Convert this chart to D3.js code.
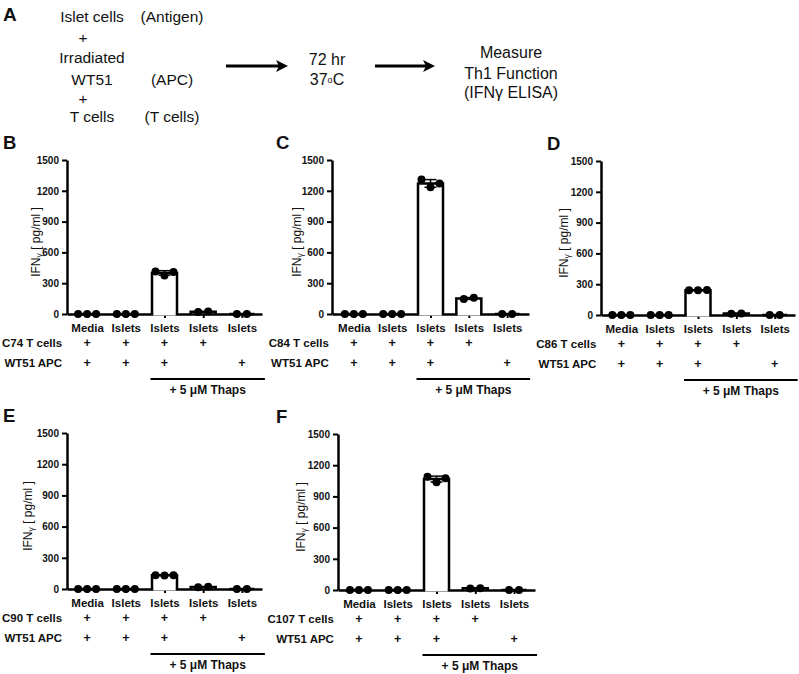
<!DOCTYPE html>
<html><head><meta charset="utf-8">
<script src="https://cdn.jsdelivr.net/npm/d3@7"></script>
<style>
body{margin:0;background:#fff}
svg{display:block}
text{font-family:"Liberation Sans",Arial,sans-serif;fill:#111}
</style>
</head><body>
<svg id="chart" width="799" height="674"></svg>
<script>
// ---------- data ----------
const categories = ["Media","Islets","Islets","Islets","Islets"];
const tCellPlus = [1,1,1,1,0];
const apcPlus   = [1,1,1,0,1];
const yTicks = [0,300,600,900,1200,1500];
const panelLetters = ["B","C","D","E","F"];
const tCellLabels = ["C74 T cells","C84 T cells","C86 T cells","C90 T cells","C107 T cells"];
const apcLabel = "WT51 APC";
const thapsLabel = "+ 5 \u03BCM Thaps";
const valuesB = [[0,0,0],[0,0,0],[415,375,410],[20,24],[0,0]];
const valuesC = [[0,0,0],[0,0,0],[1310,1235,1270],[145,158],[0,0]];
const valuesD = [[0,0,0],[0,0,0],[242,240,244],[12,15],[0,0]];
const valuesE = [[0,0,0],[0,0,0],[133,131,133],[18,22],[0,0]];
const valuesF = [[0,0,0],[0,0,0],[1090,1035,1075],[15,18],[0,0]];
const schemeLeft  = ["Islet cells","+","Irradiated","WT51","+","T cells"];
const schemeRight = ["(Antigen)","(APC)","(T cells)"];
const schemeMid   = ["72 hr","37"];
const schemeEnd   = ["Measure","Th1 Function","(IFN\u03B3 ELISA)"];

// ---------- layout ----------
const panels = [
  {vals:valuesB, x0:67,  x1:262, pad:0.52, yTop:160, yBot:314, lx:3,   yl:27},
  {vals:valuesC, x0:332, x1:529, pad:0.57, yTop:160, yBot:314, lx:276, yl:31},
  {vals:valuesD, x0:601, x1:795, pad:0.53, yTop:161, yBot:315, lx:547, yl:33},
  {vals:valuesE, x0:67,  x1:262, pad:0.52, yTop:433, yBot:589, lx:3,   yl:35},
  {vals:valuesF, x0:338, x1:535, pad:0.54, yTop:434, yBot:590, lx:276, yl:33}
];
const FF = "'Liberation Sans',Arial,sans-serif";

const svg = d3.select("#chart");
svg.append("rect").attr("width",799).attr("height",674).attr("fill","#fff");

// ---------- panel A ----------
const A = svg.append("g");
A.append("text").attr("x",3).attr("y",21).attr("font-size",19).attr("font-weight","bold").text("A");
const leftY = [21.5,43,63,85,104,122];
schemeLeft.forEach((t,i)=>{
  A.append("text").attr("x", t==="+"?83:92).attr("y",leftY[i]).attr("text-anchor","middle")
   .attr("font-size",15.5).text(t);
});
[21.5,85,122].forEach((yy,i)=>{
  A.append("text").attr("x",172).attr("y",yy).attr("text-anchor","middle").attr("font-size",15.5).text(schemeRight[i]);
});
A.append("text").attr("x",327).attr("y",65).attr("text-anchor","middle").attr("font-size",16).text(schemeMid[0]);
const t37 = A.append("text").attr("x",327).attr("y",85).attr("text-anchor","middle").attr("font-size",16);
t37.append("tspan").text(schemeMid[1]);
t37.append("tspan").attr("font-size",9).attr("dy",-2).text("o");
t37.append("tspan").attr("dy",2).text("C");
[58,79,98].forEach((yy,i)=>{
  A.append("text").attr("x",511).attr("y",yy).attr("text-anchor","middle").attr("font-size",16).text(schemeEnd[i]);
});
function arrow(xa,xb,yy){
  A.append("line").attr("x1",xa).attr("x2",xb-8).attr("y1",yy).attr("y2",yy).attr("stroke","#000").attr("stroke-width",3);
  A.append("path").attr("d",`M${xb},${yy} L${xb-12},${yy-6} L${xb-9},${yy} L${xb-12},${yy+6} Z`).attr("fill","#000");
}
arrow(226,288,66);
arrow(375,435,66);

// ---------- bar panels ----------
const bw = 25;
panels.forEach((P,pi)=>{
  const g = svg.append("g");
  const y = d3.scaleLinear().domain([0,1500]).range([P.yBot,P.yTop]);
  const x = d3.scalePoint().domain(d3.range(categories.length)).range([P.x0,P.x1]).padding(P.pad);

  // panel letter
  g.append("text").attr("x",P.lx).attr("y",P.yTop-11).attr("font-size",18.5).attr("font-weight","bold").text(panelLetters[pi]);

  // y axis
  const ya = g.append("g").attr("transform",`translate(${P.x0},0)`)
    .call(d3.axisLeft(y).tickValues(yTicks).tickFormat(d3.format("d")).tickSize(5).tickSizeOuter(0).tickPadding(3));
  ya.select(".domain").attr("stroke","#000").attr("stroke-width",2.5);
  ya.selectAll(".tick line").attr("stroke","#000").attr("stroke-width",2);
  ya.selectAll(".tick text").attr("font-size",10).attr("font-weight","bold")
    .attr("font-family",FF).attr("fill","#111");

  // y label
  const yl = g.append("text").attr("transform",`translate(${P.x0-P.yl},${(P.yTop+P.yBot)/2+5}) rotate(-90)`)
    .attr("text-anchor","middle").attr("font-size",12);
  yl.append("tspan").text("IFN");
  yl.append("tspan").attr("font-size",8.5).attr("dy",2).text("\u03B3");
  yl.append("tspan").attr("dy",-2).text(" [ pg/ml ]");

  // x axis
  const xa = g.append("g").attr("transform",`translate(0,${P.yBot})`)
    .call(d3.axisBottom(x).tickSize(4).tickSizeOuter(0).tickPadding(6).tickFormat(i=>categories[i]));
  xa.select(".domain").attr("stroke","#000").attr("stroke-width",2.5);
  xa.selectAll(".tick line").attr("stroke","#000").attr("stroke-width",2);
  xa.selectAll(".tick text").attr("font-size",11.5).attr("font-weight","bold")
    .attr("font-family",FF).attr("fill","#111");

  // bars
  P.vals.forEach((vals,i)=>{
    const m = d3.mean(vals);
    const cx = x(i), top = y(m), bot = y(0);
    if (bot-top > 4) {
      g.append("rect").attr("x",cx-bw/2+1.25).attr("y",top).attr("width",bw-2.5).attr("height",bot-top+1.5).attr("fill","#fff");
    }
    g.append("path").attr("d",`M${cx-bw/2},${bot} L${cx-bw/2},${top} L${cx+bw/2},${top} L${cx+bw/2},${bot}`)
      .attr("fill","none").attr("stroke","#000").attr("stroke-width",2.5);
    const sd = vals.length>1 ? d3.deviation(vals) : 0;
    if (sd > 3) {
      g.append("line").attr("x1",cx).attr("x2",cx).attr("y1",y(m-sd)).attr("y2",y(m+sd)).attr("stroke","#000").attr("stroke-width",1.5);
      [m-sd,m+sd].forEach(v=>g.append("line").attr("x1",cx-6).attr("x2",cx+6).attr("y1",y(v)).attr("y2",y(v)).attr("stroke","#000").attr("stroke-width",1.5));
    }
    const offs = vals.length===3 ? [-9,0,9] : [-5,5];
    vals.forEach((v,j)=>{
      g.append("circle").attr("cx",cx+offs[j]).attr("cy",y(v)).attr("r",4).attr("fill","#000");
    });
  });

  // condition rows
  const r1 = P.yBot+33, r2 = P.yBot+53;
  g.append("text").attr("x",x(0)-25).attr("y",r1).attr("text-anchor","end").attr("font-size",11.5).attr("font-weight","bold").text(tCellLabels[pi]);
  g.append("text").attr("x",x(0)-25).attr("y",r2).attr("text-anchor","end").attr("font-size",11.5).attr("font-weight","bold").text(apcLabel);
  categories.forEach((c,i)=>{
    if (tCellPlus[i]) g.append("text").attr("x",x(i)).attr("y",r1).attr("text-anchor","middle").attr("font-size",12.5).attr("font-weight","bold").text("+");
    if (apcPlus[i]) g.append("text").attr("x",x(i)).attr("y",r2).attr("text-anchor","middle").attr("font-size",12.5).attr("font-weight","bold").text("+");
  });
  const lx0 = x(2)-14, lx1 = x(4)+23, ly = P.yBot+65;
  g.append("line").attr("x1",lx0).attr("x2",lx1).attr("y1",ly).attr("y2",ly).attr("stroke","#000").attr("stroke-width",2);
  g.append("text").attr("x",(lx0+lx1)/2).attr("y",P.yBot+79.5).attr("text-anchor","middle").attr("font-size",12).attr("font-weight","bold").text(thapsLabel);
});
</script>
</body></html>
